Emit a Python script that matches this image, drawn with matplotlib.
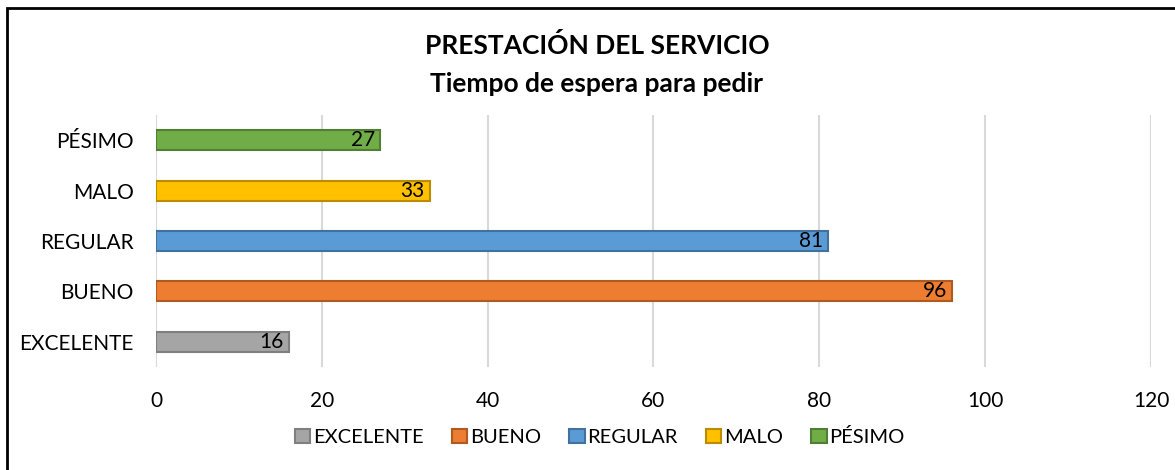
import matplotlib.pyplot as plt
from matplotlib.patches import Rectangle

categorias = ["EXCELENTE", "BUENO", "REGULAR", "MALO", "PÉSIMO"]
valores = [16, 96, 81, 33, 27]
colores = ["#A5A5A5", "#ED7D31", "#5B9BD5", "#FFC000", "#70AD47"]
bordes = ["#7F7F7F", "#AE5A21", "#41719C", "#BC8C00", "#507E32"]
ticks_x = [0, 20, 40, 60, 80, 100, 120]

plt.rcParams['font.family'] = ['Lato', 'DejaVu Sans']

W, H = 1175, 470
fig = plt.figure(figsize=(W / 100, H / 100), dpi=100)

# marco del gráfico (sólo borde superior e izquierdo visibles)
fig.patches.append(Rectangle((7 / W, -0.05), 1.2, 1 - 8 / H + 0.05,
                             transform=fig.transFigure, fill=False,
                             edgecolor="black", linewidth=2))

ax = fig.add_axes([156 / W, 1 - 367 / H, (1151 - 156) / W, (367 - 115) / H])

y = range(len(categorias))
for i, (v, c, b) in enumerate(zip(valores, colores, bordes)):
    ax.barh(i, v, height=0.4, color=c, edgecolor=b, linewidth=1.5,
            label=categorias[i], zorder=3)
    ax.text(v - 0.6, i, str(v), ha="right", va="center", fontsize=15,
            color="black", zorder=4)

ax.set_xlim(0, 120)
ax.set_ylim(-0.5, len(categorias) - 0.5)
ax.set_xticks(ticks_x)
ax.set_yticks(list(y))
ax.set_yticklabels(categorias)
ax.tick_params(axis="both", length=0, labelsize=15, colors="#000000")
ax.tick_params(axis="x", pad=17)
ax.tick_params(axis="y", pad=16)
ax.grid(axis="x", color="#D9D9D9", linewidth=1.5, zorder=0)
for s in ax.spines.values():
    s.set_visible(False)

fig.text(597 / W, 1 - 46 / H, "PRESTACIÓN DEL SERVICIO", ha="center",
         va="center", fontsize=19, fontweight="bold")
fig.text(597 / W, 1 - 84 / H, "Tiempo de espera para pedir", ha="center",
         va="center", fontsize=19, fontweight="bold")

leg = ax.legend(loc="center", bbox_to_anchor=((600 - 156) / 995, -70 / 252),
                ncol=5, frameon=False, fontsize=14.5, handlelength=0.75,
                handleheight=0.75, handletextpad=0.15, columnspacing=1.4)

fig.savefig("out.png", dpi=100)
